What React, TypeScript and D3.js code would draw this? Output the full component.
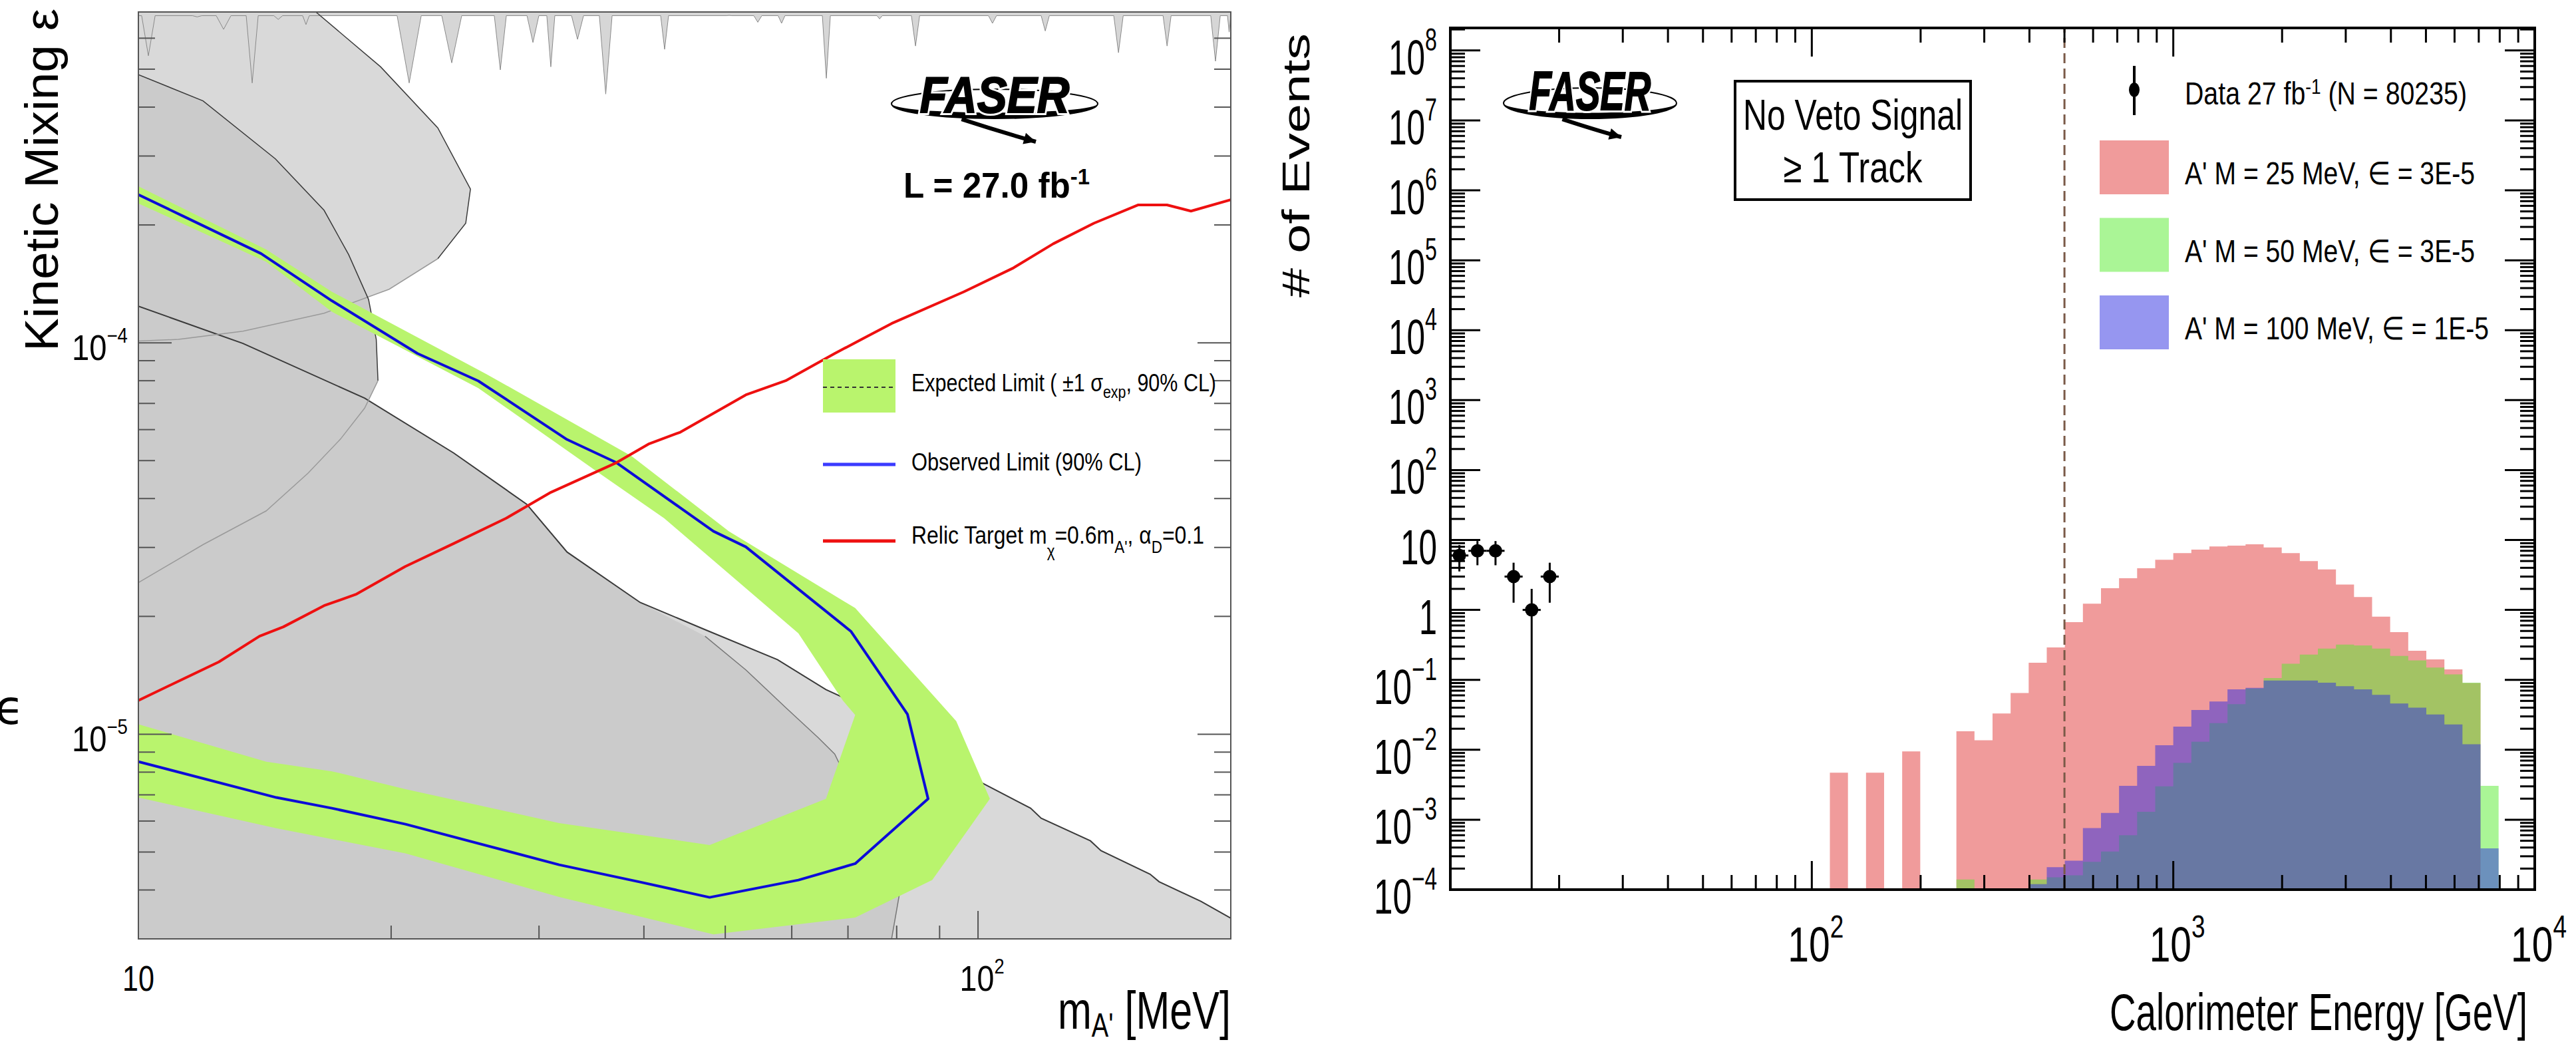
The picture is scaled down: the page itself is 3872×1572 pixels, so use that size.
import React from "react";
import * as d3 from "d3";

// ---------- left panel : dark photon limits (mass in MeV, kinetic mixing eps) ----------
const obsMass = [10, 11.34, 14.0, 17.0, 21.5, 25.4, 32.4, 37.1, 48.4, 52.9, 70.6, 82.4, 87.2, 71.4, 61.1, 47.9, 39.6, 31.7, 20.8, 17.0, 14.6, 10];
const obsEps = [2.39e-4, 2.1e-4, 1.69e-4, 1.28e-4, 9.39e-5, 7.99e-5, 5.66e-5, 4.94e-5, 3.3e-5, 3.01e-5, 1.83e-5, 1.125e-5, 6.84e-6, 4.67e-6, 4.24e-6, 3.83e-6, 4.19e-6, 4.64e-6, 5.89e-6, 6.47e-6, 6.89e-6, 8.51e-6];

// expected +-1 sigma band, outer and inner edge
const bandOuterMass = [10, 14.2, 17.0, 25.97, 38.7, 50.5, 71.4, 94.2, 103.3, 97.3, 88.2, 71.4, 48.4, 31.7, 20.8, 14.6, 10];
const bandOuterEps = [2.51e-4, 1.73e-4, 1.35e-4, 8.32e-5, 5.13e-5, 3.3e-5, 2.1e-5, 1.08e-5, 6.84e-6, 5.7e-6, 4.24e-6, 3.4e-6, 3.08e-6, 3.84e-6, 4.96e-6, 5.75e-6, 6.89e-6];
const bandInnerMass = [10, 14.2, 17.0, 25.4, 35.4, 42.3, 61.1, 69.0, 71.4, 65.9, 47.9, 31.7, 20.8, 17.0, 14.2, 10];
const bandInnerEps = [2.27e-4, 1.61e-4, 1.2e-4, 7.66e-5, 4.64e-5, 3.56e-5, 1.81e-5, 1.22e-5, 1.12e-5, 6.84e-6, 5.21e-6, 5.93e-6, 7.24e-6, 8.04e-6, 8.51e-6, 1.06e-5];

// relic target
const relicMass = [10, 12.47, 13.94, 14.88, 16.64, 18.19, 20.78, 23.74, 27.4, 31.0, 37.1, 40.5, 44.2, 52.9, 59.0, 67.5, 78.9, 96.2, 110, 122.9, 137.4, 155.2, 167.9, 179.3, 200];
const relicEps = [1.22e-5, 1.53e-5, 1.78e-5, 1.88e-5, 2.13e-5, 2.28e-5, 2.68e-5, 3.07e-5, 3.56e-5, 4.15e-5, 4.94e-5, 5.51e-5, 5.91e-5, 7.36e-5, 8.0e-5, 9.39e-5, 1.12e-4, 1.35e-4, 1.55e-4, 1.79e-4, 2.02e-4, 2.25e-4, 2.25e-4, 2.17e-4, 2.32e-4];

// grey excluded regions
const bulbAMass = [16.27, 19.43, 22.73, 24.86, 24.54, 22.73, 19.89, 16.64, 13.32, 11.16, 10];
const bulbAEps = [7e-4, 5.07e-4, 3.54e-4, 2.47e-4, 2.02e-4, 1.64e-4, 1.37e-4, 1.19e-4, 1.07e-4, 1.02e-4, 1.01e-4];
const bulbBMass = [10, 11.94, 14.56, 16.64, 17.8, 18.8, 19.2, 19.29, 18.6, 17.4, 15.92, 14.2, 11.94, 10];
const bulbBEps = [4.84e-4, 4.15e-4, 2.95e-4, 2.18e-4, 1.68e-4, 1.29e-4, 1.02e-4, 8.0e-5, 6.81e-5, 5.67e-5, 4.64e-5, 3.72e-5, 3.05e-5, 2.44e-5];
const beamDumpMass = [10, 13.32, 18.6, 23.74, 29.0, 32.4, 39.6, 47.3, 57.7, 65.9, 78.9, 100.4, 115.5, 118.9, 136.1, 140.1, 160.3, 164.3, 184.3, 200];
const beamDumpEps = [1.24e-4, 9.96e-5, 7.22e-5, 5.23e-5, 3.87e-5, 2.92e-5, 2.17e-5, 1.85e-5, 1.55e-5, 1.3e-5, 1.09e-5, 7.57e-6, 6.47e-6, 6.1e-6, 5.34e-6, 5.04e-6, 4.39e-6, 4.2e-6, 3.74e-6, 3.39e-6];
const dumpDMass = [47.3, 52.9, 59.0, 64.5, 67.5, 72.2, 77.1, 80.8, 78.9];
const dumpDEps = [1.78e-5, 1.46e-5, 1.17e-5, 9.8e-6, 8.9e-6, 6.6e-6, 5.42e-6, 4.02e-6, 3e-6];

// narrow resonance spikes hanging from the top
const spikeBase = 6.85e-4;
const spikeLo = [10.09, 11.6, 12.38, 13.44, 14.5, 15.69, 20.33, 22.98, 26.54, 29.03, 30.65, 32.8, 35.4, 41.88, 50.18, 54.07, 57.8, 65.25, 75.8, 83.3, 102.9, 118.9, 145.1, 166.1, 189.3, 198.2];
const spikeHi = [10.47, 11.9, 12.89, 13.89, 14.85, 15.98, 21.72, 24.27, 27.43, 29.99, 31.33, 33.9, 36.66, 42.8, 50.9, 55.27, 58.9, 66.7, 76.9, 85.2, 105.2, 121.6, 148.9, 169.8, 194.3, 200];
const spikeEps = [5.41e-4, 6.8e-4, 6.32e-4, 4.61e-4, 6.7e-4, 6.5e-4, 4.61e-4, 5.19e-4, 4.98e-4, 5.85e-4, 5.07e-4, 5.96e-4, 4.32e-4, 5.62e-4, 6.86e-4, 6.59e-4, 6.55e-4, 4.74e-4, 6.72e-4, 5.73e-4, 6.55e-4, 6.26e-4, 5.51e-4, 5.73e-4, 5.24e-4, 6.22e-4];

// ---------- right panel : calorimeter energy (GeV) ----------
const binsPerDecade = 20;
const dataFirstBin = 0;
const dataCounts = [6, 7, 7, 3, 1, 3];
const sig25First = 21;
const sig25 = [4.7e-3, 0, 4.7e-3, 0, 9.5e-3, 0, 0, 1.84e-2, 1.37e-2, 3.3e-2, 6.5e-2, 0.176, 0.29, 0.67, 1.23, 2.04, 2.84, 3.95, 5.2, 6.5, 7.3, 8.1, 8.3, 8.7, 7.8, 6.5, 5.0, 3.8, 2.3, 1.53, 0.8, 0.48, 0.26, 0.196, 0.141, 0.09];
const sig50First = 28;
const sig50 = [1.4e-4, 0, 0, 0, 1.4e-4, 1.5e-4, 1.6e-4, 2.5e-4, 3.5e-4, 6e-4, 1.3e-3, 3e-3, 6.5e-3, 0.013, 0.024, 0.045, 0.075, 0.106, 0.17, 0.23, 0.28, 0.32, 0.31, 0.28, 0.22, 0.19, 0.15, 0.12, 0.091, 3.05e-3];
const sig100First = 32;
const sig100 = [1.2e-4, 2.1e-4, 2.6e-4, 7.6e-4, 1.25e-3, 3.05e-3, 5.9e-3, 0.0116, 0.0214, 0.037, 0.049, 0.073, 0.077, 0.098, 0.098, 0.098, 0.091, 0.081, 0.073, 0.061, 0.046, 0.04, 0.032, 0.023, 0.012, 3.9e-4];
const energyCut = 500;
const legendLabels = ["A' M = 25 MeV,  \u2208 = 3E-5", "A' M = 50 MeV,  \u2208 = 3E-5", "A' M = 100 MeV,  \u2208 = 1E-5"];
const legendColors = ["#e13737", "#55eb2d", "#2d2de1"];

const FONT = "'Liberation Sans', Arial, Helvetica, sans-serif";
type P = [number, number];
const zip = (a: number[], b: number[]): P[] => a.map((v, i) => [v, b[i]] as P);
const isPow = (v: number) => Math.abs(Math.log10(v) - Math.round(Math.log10(v))) < 1e-6;
const expStr = (p: number) => (p < 0 ? "\u2212" + Math.abs(p) : String(p));

function FaserLogo({ cx, cy, rx, ry, ty, fs, tw, ax, ay }: any) {
  const crescent = `M${cx - rx},${cy} A${rx},${ry} 0 0 0 ${cx + rx},${cy} A${rx - 4},${ry - 9} 0 0 1 ${cx - rx},${cy} Z`;
  const sx = cx - rx * 0.32, sy = cy + ry * 1.05;
  const ex = cx + ax, ey = cy + ay;
  const ang = Math.atan2(ey - (sy + 18), ex - (sx + 55));
  const h = 20;
  const head = `M${ex},${ey} L${ex - h * Math.cos(ang - 0.45)},${ey - h * Math.sin(ang - 0.45)} L${ex - h * Math.cos(ang + 0.45)},${ey - h * Math.sin(ang + 0.45)} Z`;
  const txt = { x: cx, y: ty, textAnchor: "middle" as const, fontSize: fs, fontWeight: 900, fontStyle: "italic", textLength: tw, lengthAdjust: "spacingAndGlyphs" };
  return (
    <g>
      <ellipse cx={cx} cy={cy} rx={rx} ry={ry} fill="none" stroke="#000" strokeWidth={2} />
      <path d={crescent} fill="#000" />
      <path d={`M${sx},${sy} Q${sx + 55},${sy + 18} ${ex},${ey}`} fill="none" stroke="#000" strokeWidth={6} />
      <path d={head} fill="#000" />
      <text {...txt} fill="#fff" stroke="#fff" strokeWidth={8}>FASER</text>
      <text {...txt} fill="#000" stroke="#000" strokeWidth={2}>FASER</text>
    </g>
  );
}

function LeftPanel() {
  const x = d3.scaleLog().domain([10, 200]).range([208, 1850]);
  const y = d3.scaleLog().domain([3e-6, 7e-4]).range([1411, 18]);
  const line = d3.line<P>().x(d => x(d[0])).y(d => y(d[1]));
  const [m0, m1] = x.domain();
  const [e0, e1] = y.domain();
  const [X0, X1] = x.range();
  const [Y0, Y1] = y.range();

  const dumpEdge = zip(beamDumpMass, beamDumpEps);
  const regionC: P[] = [[m0, e0], ...dumpEdge, [m1, e0]];
  const regionD: P[] = [[m0, e0], ...dumpEdge.filter(d => d[0] < 45), ...zip(dumpDMass, dumpDEps)];
  const bulbA: P[] = [[m0, e1], ...zip(bulbAMass, bulbAEps)];
  const bulbB = zip(bulbBMass, bulbBEps);
  const spikes: P[] = [[m0, e1], [m0, spikeBase]];
  spikeLo.forEach((lo, i) => {
    const hi = spikeHi[i];
    spikes.push([lo, spikeBase], [Math.sqrt(lo * hi), spikeEps[i]], [hi, spikeBase]);
  });
  spikes.push([m1, spikeBase], [m1, e1]);
  const band: P[] = [...zip(bandOuterMass, bandOuterEps), ...zip(bandInnerMass, bandInnerEps).reverse()];

  const yt = y.ticks().filter(v => v > e0 * 1.01 && v < e1 * 0.99);
  const xt = x.ticks().filter(v => v > m0 * 1.01 && v < m1 * 0.99);
  const light = "#d9d9d9", dark = "#cbcbcb", edge = "#3a3a3a";

  return (
    <g>
      <defs>
        <clipPath id="lclip"><rect x={X0} y={Y1} width={X1 - X0} height={Y0 - Y1} /></clipPath>
      </defs>
      <g clipPath="url(#lclip)">
        <path d={line(regionC) + "Z"} fill={light} />
        <path d={line(regionD) + "Z"} fill={dark} />
        <path d={line(bulbA) + "Z"} fill={light} />
        <path d={line(bulbB) + "Z"} fill={dark} />
        <path d={line(spikes) + "Z"} fill="#d6d6d6" stroke="#8a8a8a" strokeWidth={1} />
        <path d={line(dumpEdge) || ""} fill="none" stroke={edge} strokeWidth={2} />
        <path d={line(zip(dumpDMass, dumpDEps)) || ""} fill="none" stroke="#777" strokeWidth={1.5} />
        <path d={line(zip(bulbAMass, bulbAEps).slice(0, 6)) || ""} fill="none" stroke={edge} strokeWidth={1.5} />
        <path d={line(zip(bulbAMass, bulbAEps).slice(5)) || ""} fill="none" stroke="#9a9a9a" strokeWidth={1.5} />
        <path d={line(bulbB.slice(0, 8)) || ""} fill="none" stroke={edge} strokeWidth={1.5} />
        <path d={line(bulbB.slice(7)) || ""} fill="none" stroke="#9a9a9a" strokeWidth={1.5} />
        <path d={line(band) + "Z"} fill="#b9f46d" />
        <path d={line(zip(obsMass, obsEps)) || ""} fill="none" stroke="#0c0cd8" strokeWidth={4} strokeLinejoin="round" />
        <path d={line(zip(relicMass, relicEps)) || ""} fill="none" stroke="#ee1010" strokeWidth={4} strokeLinejoin="round" />
      </g>
      <rect x={X0} y={Y1} width={X1 - X0} height={Y0 - Y1} fill="none" stroke="#555" strokeWidth={2} />
      {yt.map((v, i) => {
        const L = isPow(v) ? 50 : 25;
        return (
          <g key={"ly" + i} stroke="#555" strokeWidth={2}>
            <line x1={X0} x2={X0 + L} y1={y(v)} y2={y(v)} />
            <line x1={X1} x2={X1 - L} y1={y(v)} y2={y(v)} />
          </g>
        );
      })}
      {xt.map((v, i) => (
        <line key={"lx" + i} x1={x(v)} x2={x(v)} y1={Y0} y2={Y0 - (isPow(v) ? 42 : 20)} stroke="#555" strokeWidth={2} />
      ))}
      {yt.filter(isPow).map((v, i) => (
        <text key={"lyl" + i} x={192} y={y(v) + 26} fontSize={53} textAnchor="end" textLength={84} lengthAdjust="spacingAndGlyphs">
          10<tspan dy={-26} fontSize={31}>{expStr(Math.round(Math.log10(v)))}</tspan>
        </text>
      ))}
      <text x={x(10)} y={1489} fontSize={53} textAnchor="middle" textLength={48} lengthAdjust="spacingAndGlyphs">10</text>
      <text x={x(100) + 6} y={1489} fontSize={53} textAnchor="middle" textLength={67} lengthAdjust="spacingAndGlyphs">
        10<tspan dy={-26} fontSize={31}>2</tspan>
      </text>
      <text x={1850} y={1546} fontSize={80} textAnchor="end" textLength={260} lengthAdjust="spacingAndGlyphs">
        m<tspan dy={12} fontSize={50}>A'</tspan><tspan dy={-12}> [MeV]</tspan>
      </text>
      <text transform="translate(87,13) rotate(-90)" fontSize={70} textAnchor="end" textLength={515} lengthAdjust="spacingAndGlyphs">Kinetic Mixing ε</text>
      <text x={-8} y={1088} fontSize={72} fontFamily="'DejaVu Sans', sans-serif">ϵ</text>

      <FaserLogo cx={1495} cy={156} rx={155} ry={22} ty={169} fs={76} tw={225} ax={62} ay={57} />
      <text x={1358} y={297} fontSize={53} fontWeight="bold" textLength={280} lengthAdjust="spacingAndGlyphs">
        L = 27.0 fb<tspan dy={-20} fontSize={34}>-1</tspan>
      </text>

      <rect x={1237} y={540} width={109} height={80} fill="#b9f46d" />
      <line x1={1237} x2={1346} y1={582} y2={582} stroke="#333" strokeWidth={2} strokeDasharray="6 5" />
      <line x1={1237} x2={1346} y1={698} y2={698} stroke="#3b3bff" strokeWidth={5} />
      <line x1={1237} x2={1346} y1={813} y2={813} stroke="#ee1010" strokeWidth={5} />
      <text x={1370} y={588} fontSize={37} textLength={458} lengthAdjust="spacingAndGlyphs">
        Expected Limit ( ±1 σ<tspan dy={10} fontSize={26}>exp</tspan><tspan dy={-10}>, 90% CL)</tspan>
      </text>
      <text x={1370} y={707} fontSize={37} textLength={346} lengthAdjust="spacingAndGlyphs">Observed Limit (90% CL)</text>
      <text x={1370} y={817} fontSize={37} textLength={440} lengthAdjust="spacingAndGlyphs">
        Relic Target m<tspan dy={20} fontSize={26}>χ</tspan><tspan dy={-20}>=0.6m</tspan><tspan dy={14} fontSize={26}>A'</tspan><tspan dy={-14}>, α</tspan><tspan dy={14} fontSize={26}>D</tspan><tspan dy={-14}>=0.1</tspan>
      </text>
    </g>
  );
}

function RightPanel() {
  const x = d3.scaleLog().domain([10, 1e4]).range([2180, 3810]);
  const y = d3.scaleLog().domain([1e-4, 2.1e8]).range([1337, 42]);
  const [X0, X1] = x.range();
  const [Y0, Y1] = y.range();
  const e0 = y.domain()[0];
  const edge = (k: number) => x.domain()[0] * Math.pow(10, k / binsPerDecade);

  const histPath = (first: number, vals: number[]) => {
    let d = "";
    let open = false;
    vals.forEach((v, i) => {
      if (!(v > 0)) return;
      const xa = x(edge(first + i)), xb = x(edge(first + i + 1));
      const yv = y(Math.max(v, e0));
      d += open ? `L${xa},${yv}` : `M${xa},${Y0}L${xa},${yv}`;
      d += `L${xb},${yv}`;
      open = true;
      if (!(vals[i + 1] > 0)) { d += `L${xb},${Y0}Z`; open = false; }
    });
    return d;
  };

  const yt = y.ticks(150).filter(v => v > e0 * 1.01 && v < y.domain()[1]);
  const xt = x.ticks().filter(v => v > 10.1 && v < 9999);
  const pows = d3.range(-4, 9);

  return (
    <g>
      <path d={histPath(sig25First, sig25)} fill={legendColors[0]} fillOpacity={0.5} />
      <path d={histPath(sig50First, sig50)} fill={legendColors[1]} fillOpacity={0.5} />
      <path d={histPath(sig100First, sig100)} fill={legendColors[2]} fillOpacity={0.5} />

      <line x1={x(energyCut)} x2={x(energyCut)} y1={Y0} y2={Y1} stroke="#7a5a48" strokeWidth={3} strokeDasharray="15 8" />

      {dataCounts.map((n, i) => {
        const k = dataFirstBin + i;
        const cx = x(edge(k + 0.5));
        const lo = n - Math.sqrt(n), hi = n + Math.sqrt(n);
        return (
          <g key={"d" + i}>
            <line x1={cx} x2={cx} y1={lo > e0 ? y(lo) : Y0} y2={y(hi)} stroke="#000" strokeWidth={3} />
            <line x1={x(edge(k))} x2={x(edge(k + 1))} y1={y(n)} y2={y(n)} stroke="#000" strokeWidth={3} />
            <circle cx={cx} cy={y(n)} r={10} fill="#000" />
          </g>
        );
      })}

      <rect x={X0} y={Y1} width={X1 - X0} height={Y0 - Y1} fill="none" stroke="#000" strokeWidth={4} />
      {yt.map((v, i) => {
        const L = isPow(v) ? 45 : 22;
        return (
          <g key={"ry" + i} stroke="#000" strokeWidth={3}>
            <line x1={X0} x2={X0 + L} y1={y(v)} y2={y(v)} />
            <line x1={X1} x2={X1 - L} y1={y(v)} y2={y(v)} />
          </g>
        );
      })}
      {xt.map((v, i) => {
        const L = isPow(v) ? 43 : 22;
        return (
          <g key={"rx" + i} stroke="#000" strokeWidth={3}>
            <line x1={x(v)} x2={x(v)} y1={Y0} y2={Y0 - L} />
            <line x1={x(v)} x2={x(v)} y1={Y1} y2={Y1 + L} />
          </g>
        );
      })}
      {pows.map(p => {
        const yy = y(Math.pow(10, p)) + 36;
        if (p === 1) return <text key={"p" + p} x={2160} y={yy} fontSize={74} textAnchor="end" textLength={55} lengthAdjust="spacingAndGlyphs">10</text>;
        if (p === 0) return <text key={"p" + p} x={2160} y={yy} fontSize={74} textAnchor="end" textLength={27} lengthAdjust="spacingAndGlyphs">1</text>;
        return (
          <text key={"p" + p} x={2160} y={yy} fontSize={74} textAnchor="end" textLength={p < 0 ? 95 : 73} lengthAdjust="spacingAndGlyphs">
            10<tspan dy={-36} fontSize={48}>{expStr(p)}</tspan>
          </text>
        );
      })}
      {[2, 3, 4].map(p => (
        <text key={"xp" + p} x={x(Math.pow(10, p)) + 6} y={1445} fontSize={74} textAnchor="middle" textLength={84} lengthAdjust="spacingAndGlyphs">
          10<tspan dy={-36} fontSize={48}>{p}</tspan>
        </text>
      ))}
      <text x={3799} y={1548} fontSize={77} textAnchor="end" textLength={628} lengthAdjust="spacingAndGlyphs">Calorimeter Energy [GeV]</text>
      <text transform="translate(1968,50) rotate(-90)" fontSize={58} textAnchor="end" textLength={397} lengthAdjust="spacingAndGlyphs"># of Events</text>

      <FaserLogo cx={2390} cy={155} rx={130} ry={23} ty={165} fs={82} tw={183} ax={47} ay={51} />

      <rect x={2608} y={122} width={354} height={178} fill="#fff" stroke="#000" strokeWidth={4} />
      <text x={2785} y={195} fontSize={64} textAnchor="middle" textLength={330} lengthAdjust="spacingAndGlyphs">No Veto Signal</text>
      <text x={2785} y={274} fontSize={64} textAnchor="middle" textLength={209} lengthAdjust="spacingAndGlyphs">≥ 1 Track</text>

      <line x1={3208} x2={3208} y1={99} y2={173} stroke="#000" strokeWidth={4} />
      <ellipse cx={3208} cy={135} rx={8} ry={11} fill="#000" />
      <text x={3284} y={157} fontSize={48} textLength={424} lengthAdjust="spacingAndGlyphs">
        Data 27 fb<tspan dy={-16} fontSize={32}>-1</tspan><tspan dy={16}> (N = 80235)</tspan>
      </text>
      {legendLabels.map((lab, i) => {
        const base = 277 + i * 116.5;
        return (
          <g key={"lg" + i}>
            <rect x={3156} y={base - 66} width={104} height={81} fill={legendColors[i]} fillOpacity={0.5} />
            <text x={3284} y={base} fontSize={48} textLength={i === 2 ? 457 : 436} lengthAdjust="spacingAndGlyphs">{lab}</text>
          </g>
        );
      })}
    </g>
  );
}

export default function App() {
  return (
    <svg width={3872} height={1572} viewBox="0 0 3872 1572" style={{ position: "absolute", left: 0, top: 0 }} fontFamily={FONT}>
      <rect width={3872} height={1572} fill="#fff" />
      <LeftPanel />
      <RightPanel />
    </svg>
  );
}
